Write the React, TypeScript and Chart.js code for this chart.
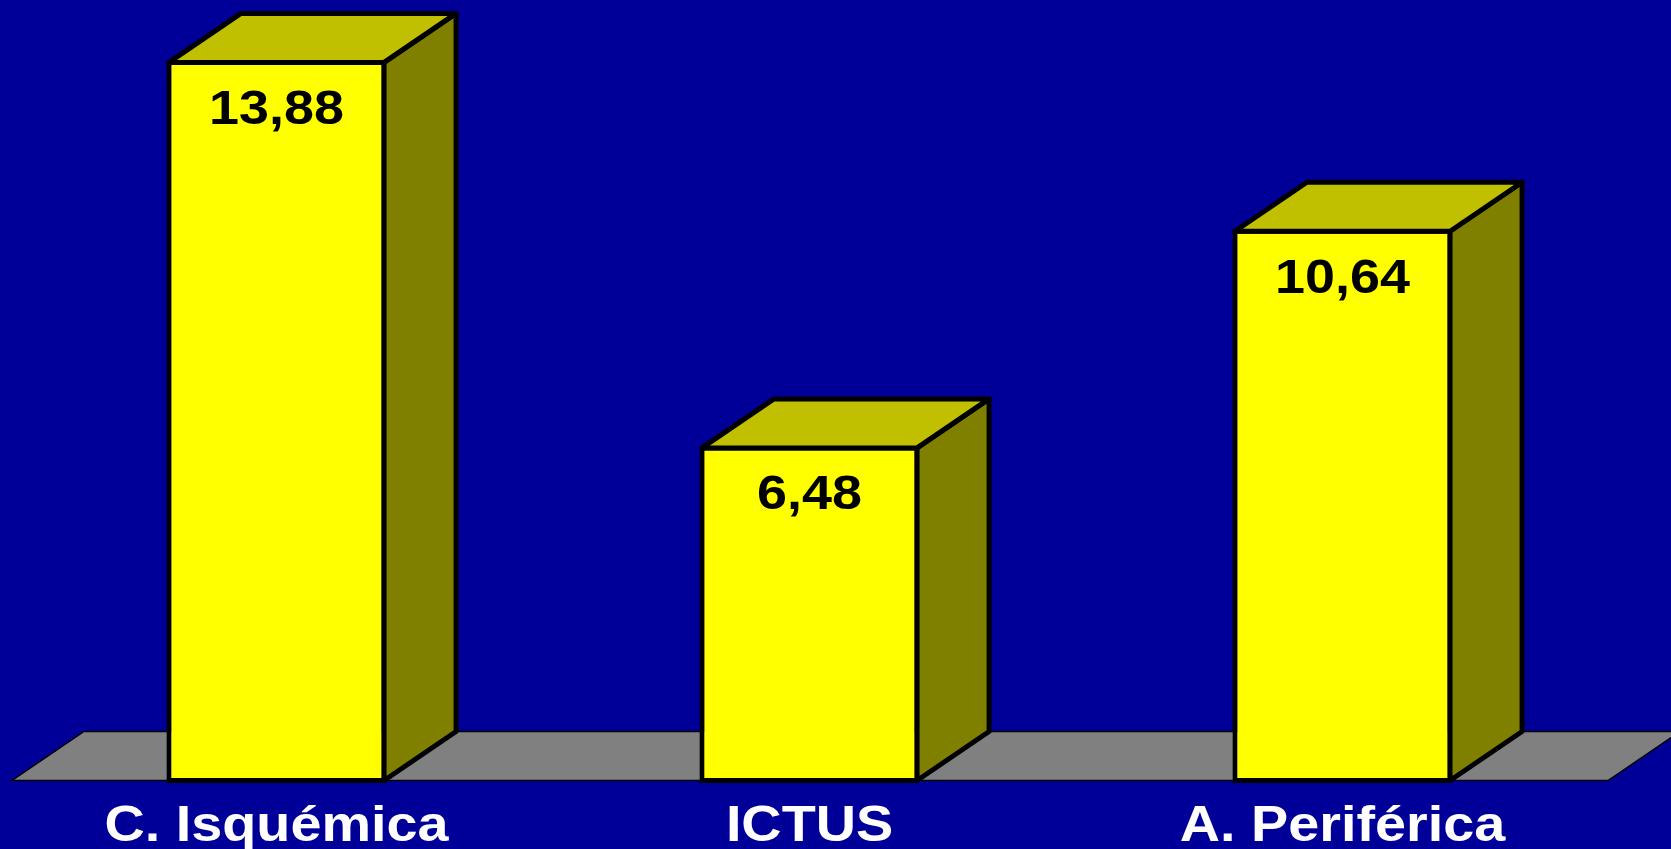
import React, { useEffect, useRef } from "react";
import { Chart, registerables } from "chart.js";

Chart.register(...registerables);

const categories = ["C. Isquémica", "ICTUS", "A. Periférica"];
const values = [13.88, 6.48, 10.64];
const valueLabels = ["13,88", "6,48", "10,64"];

const BG = "#000099";
const FRONT = "#FFFF00";
const TOP = "#C0C000";
const SIDE = "#808000";
const FLOOR = "#808080";
const FONT = '"Liberation Sans", Arial, sans-serif';
const DX = 72;
const DY = 49;

const threeD = {
  id: "threeD",
  beforeDraw(chart: any) {
    const ctx = chart.ctx;
    ctx.save();
    ctx.fillStyle = BG;
    ctx.fillRect(0, 0, chart.width, chart.height);
    ctx.restore();
  },
  beforeDatasetsDraw(chart: any) {
    const ctx = chart.ctx;
    const area = chart.chartArea;
    const base = chart.scales.y.getPixelForValue(0) - 2.5;
    const l = area.left + 2;
    const r = area.right - 1;
    ctx.save();
    ctx.beginPath();
    ctx.moveTo(l, base);
    ctx.lineTo(r, base);
    ctx.lineTo(r + DX, base - DY);
    ctx.lineTo(l + DX, base - DY);
    ctx.closePath();
    ctx.fillStyle = FLOOR;
    ctx.fill();
    ctx.lineWidth = 1.5;
    ctx.strokeStyle = "#000";
    ctx.stroke();
    ctx.restore();
  },
  afterDatasetsDraw(chart: any) {
    const ctx = chart.ctx;
    const meta = chart.getDatasetMeta(0);
    ctx.save();
    ctx.lineWidth = 5;
    ctx.lineJoin = "round";
    ctx.strokeStyle = "#000";
    meta.data.forEach((el: any) => {
      const p = el.getProps(["x", "y", "base", "width"], true);
      const L = p.x - p.width / 2 + 2.5;
      const R = p.x + p.width / 2 - 2.5;
      const T = p.y + 2.5;
      const B = p.base - 2.5;
      ctx.beginPath();
      ctx.moveTo(R, T);
      ctx.lineTo(R + DX, T - DY);
      ctx.lineTo(R + DX, B - DY);
      ctx.lineTo(R, B);
      ctx.closePath();
      ctx.fillStyle = SIDE;
      ctx.fill();
      ctx.stroke();
      ctx.beginPath();
      ctx.moveTo(L, T);
      ctx.lineTo(L + DX, T - DY);
      ctx.lineTo(R + DX, T - DY);
      ctx.lineTo(R, T);
      ctx.closePath();
      ctx.fillStyle = TOP;
      ctx.fill();
      ctx.stroke();
    });
    ctx.restore();
  },
  afterDraw(chart: any) {
    const ctx = chart.ctx;
    const meta = chart.getDatasetMeta(0);
    ctx.save();
    ctx.textAlign = "center";
    ctx.textBaseline = "alphabetic";
    ctx.fillStyle = "#000";
    ctx.font = `bold 49px ${FONT}`;
    meta.data.forEach((el: any, i: number) => {
      const p = el.getProps(["x", "y"], true);
      ctx.save();
      ctx.translate(p.x, p.y + 64);
      ctx.scale(1.1, 1);
      ctx.fillText(valueLabels[i], 0, 0);
      ctx.restore();
    });
    ctx.fillStyle = "#FFFFFF";
    ctx.font = `bold 50px ${FONT}`;
    const xs = chart.scales.x;
    categories.forEach((c, i) => {
      const x = xs.getPixelForValue(i);
      ctx.save();
      ctx.translate(x, 841);
      ctx.scale(1.115, 1);
      ctx.fillText(c, 0, 0);
      ctx.restore();
    });
    ctx.restore();
  },
};

export default function App() {
  const ref = useRef<HTMLCanvasElement>(null);
  useEffect(() => {
    document.body.style.margin = "0";
    document.body.style.background = BG;
    const chart = new Chart(ref.current as HTMLCanvasElement, {
      type: "bar",
      data: {
        labels: categories,
        datasets: [
          {
            data: values,
            backgroundColor: FRONT,
            borderColor: "#000",
            borderWidth: 5,
            borderSkipped: false,
            barPercentage: 0.413,
            categoryPercentage: 1,
          },
        ],
      },
      options: {
        responsive: false,
        animation: false,
        devicePixelRatio: 1,
        layout: { padding: { left: 10, right: 62, top: 0, bottom: 66 } },
        scales: {
          x: { display: false },
          y: { display: false, min: 0, max: 15.03 },
        },
        plugins: {
          legend: { display: false },
          tooltip: { enabled: false },
        },
      },
      plugins: [threeD],
    });
    return () => chart.destroy();
  }, []);
  return (
    <div style={{ position: "absolute", left: 0, top: 0, width: 1671, height: 849 }}>
      <canvas ref={ref} width={1671} height={849} style={{ display: "block" }} />
    </div>
  );
}
